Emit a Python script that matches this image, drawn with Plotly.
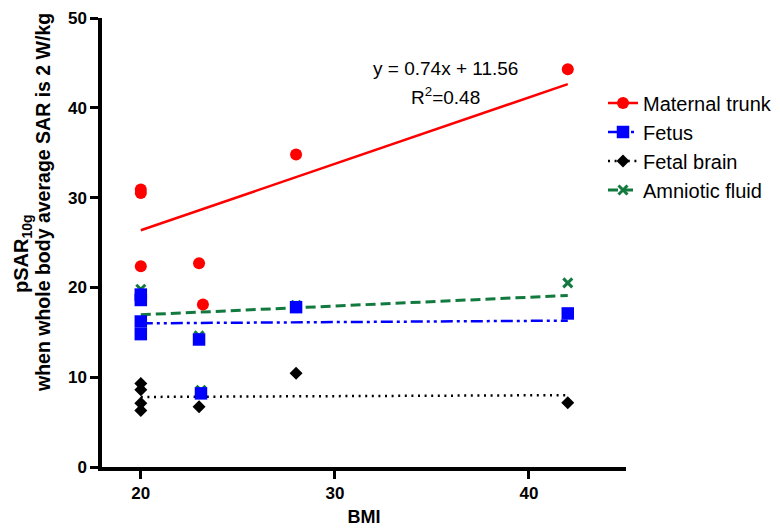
import plotly.graph_objects as go

# ---- data ----
maternal_bmi = [20, 20, 20, 23, 23.2, 28, 42]
maternal_sar = [30.9, 30.5, 22.35, 22.7, 18.1, 34.8, 44.3]

fetus_bmi = [20, 20, 20, 20, 23, 23.1, 28, 42]
fetus_sar = [19.2, 18.6, 16.2, 14.8, 14.2, 8.2, 17.8, 17.1]

brain_bmi = [20, 20, 20, 20, 23, 28, 42]
brain_sar = [9.3, 8.6, 7.1, 6.3, 6.7, 10.45, 7.15]

amniotic_bmi = [20, 23, 23.1, 28, 42]
amniotic_sar = [19.8, 14.6, 8.55, 18.0, 20.5]

# regression lines (end points)
fit_bmi = [20, 42]
maternal_slope = 0.74
maternal_intercept = 11.56
maternal_fit = [maternal_slope * b + maternal_intercept for b in fit_bmi]
fetus_fit = [16.0, 16.3]
brain_fit = [7.8, 8.0]
amniotic_fit = [16.95, 19.1]

x_ticks = [20, 30, 40]
y_ticks = [0, 10, 20, 30, 40, 50]

RED = "#FF0000"
BLUE = "#0000FF"
BLACK = "#000000"
GREEN = "#127A3E"
FONT = "Liberation Sans, Arial, sans-serif"

styles = {
    "Maternal trunk": dict(color=RED, symbol="circle", size=12, dash="solid", lw=2.5),
    "Fetus": dict(color=BLUE, symbol="square", size=12.5, dash="12px,4px,3px,4px,3px,4px", lw=2.5),
    "Fetal brain": dict(color=BLACK, symbol="diamond", size=10, dash="2px,4.6px", lw=2.5),
    "Amniotic fluid": dict(color=GREEN, symbol="x-thin-open", size=9, dash="10px,5px", lw=3),
}

fig = go.Figure()

# legend-only entries (in legend order)
for name, s in styles.items():
    mk = dict(color=s["color"], symbol=s["symbol"], size=s["size"])
    if s["symbol"] == "x-thin-open":
        mk["line"] = dict(color=s["color"], width=3)
    fig.add_trace(go.Scatter(
        x=[None], y=[None], mode="lines+markers", name=name,
        line=dict(color=s["color"], dash=s["dash"], width=s["lw"]),
        marker=mk, showlegend=True))

# fit lines
for name, fit in [("Maternal trunk", maternal_fit), ("Fetus", fetus_fit),
                  ("Fetal brain", brain_fit), ("Amniotic fluid", amniotic_fit)]:
    s = styles[name]
    fig.add_trace(go.Scatter(
        x=fit_bmi, y=fit, mode="lines", showlegend=False, hoverinfo="skip",
        line=dict(color=s["color"], dash=s["dash"], width=s["lw"])))

# markers (drawing order: amniotic, brain, fetus, maternal)
for name, xs, ys in [("Amniotic fluid", amniotic_bmi, amniotic_sar),
                     ("Fetal brain", brain_bmi, brain_sar),
                     ("Fetus", fetus_bmi, fetus_sar),
                     ("Maternal trunk", maternal_bmi, maternal_sar)]:
    s = styles[name]
    mk = dict(color=s["color"], symbol=s["symbol"], size=s["size"])
    if s["symbol"] == "x-thin-open":
        mk["line"] = dict(color=s["color"], width=3)
    fig.add_trace(go.Scatter(x=xs, y=ys, mode="markers", showlegend=False,
                             name=name, marker=mk))

axis_common = dict(showline=True, linewidth=3.5, linecolor="black",
                   ticks="outside", ticklen=8, tickwidth=3, tickcolor="black",
                   showgrid=False, zeroline=False, automargin=False,
                   ticklabeloverflow="allow",
                   tickfont=dict(family=FONT, size=17, color="black", weight="bold"))

# the page body adds an 8px margin, so the figure is laid out 8px smaller
OFF = 8
W, H = 780 - OFF, 528 - OFF
L, T = 102 - OFF, 18 - OFF
R = W - (626 - OFF)
B = H - (467 - OFF)
PW, PH = W - L - R, H - T - B

fig.update_layout(
    width=W, height=H,
    margin=dict(l=L, r=R, t=T, b=B, autoexpand=False),
    paper_bgcolor="white", plot_bgcolor="white",
    font=dict(family=FONT, color="black"),
    xaxis=dict(range=[18, 45], tickvals=x_ticks, **axis_common,
               title=dict(text="BMI", standoff=9,
                          font=dict(family=FONT, size=18, color="black", weight="bold"))),
    yaxis=dict(range=[0, 50], tickvals=y_ticks, **axis_common),
    legend=dict(x=(603 - OFF) / W, y=1 - (83.5 - OFF) / H,
                xanchor="left", yanchor="top",
                xref="container", yref="container",
                font=dict(family=FONT, size=20, color="black"),
                bgcolor="rgba(0,0,0,0)", itemwidth=30, tracegroupgap=0),
    showlegend=True,
)

annotations = [
    dict(text="y = 0.74x + 11.56", x=35.7, y=44.4, xref="x", yref="y",
         showarrow=False, font=dict(family=FONT, size=19, color="black")),
    dict(text="R<sup>2</sup>=0.48", x=35.7, y=41.3, xref="x", yref="y",
         showarrow=False, font=dict(family=FONT, size=19, color="black")),
    dict(text="pSAR<sub>10g</sub>", x=(22 - OFF - L) / PW,
         y=(H - B - (254 - OFF)) / PH,
         xref="paper", yref="paper", textangle=-90, showarrow=False,
         xanchor="center", yanchor="middle",
         font=dict(family=FONT, size=20, color="black", weight="bold")),
    dict(text="when whole body average SAR is 2 W/kg", x=(43 - OFF - L) / PW,
         y=(H - B - (203 - OFF)) / PH, xref="paper", yref="paper", textangle=-90,
         showarrow=False, xanchor="center", yanchor="middle",
         font=dict(family=FONT, size=19.5, color="black", weight="bold")),
]
fig.update_layout(annotations=annotations)

fig.write_html("out.html")
